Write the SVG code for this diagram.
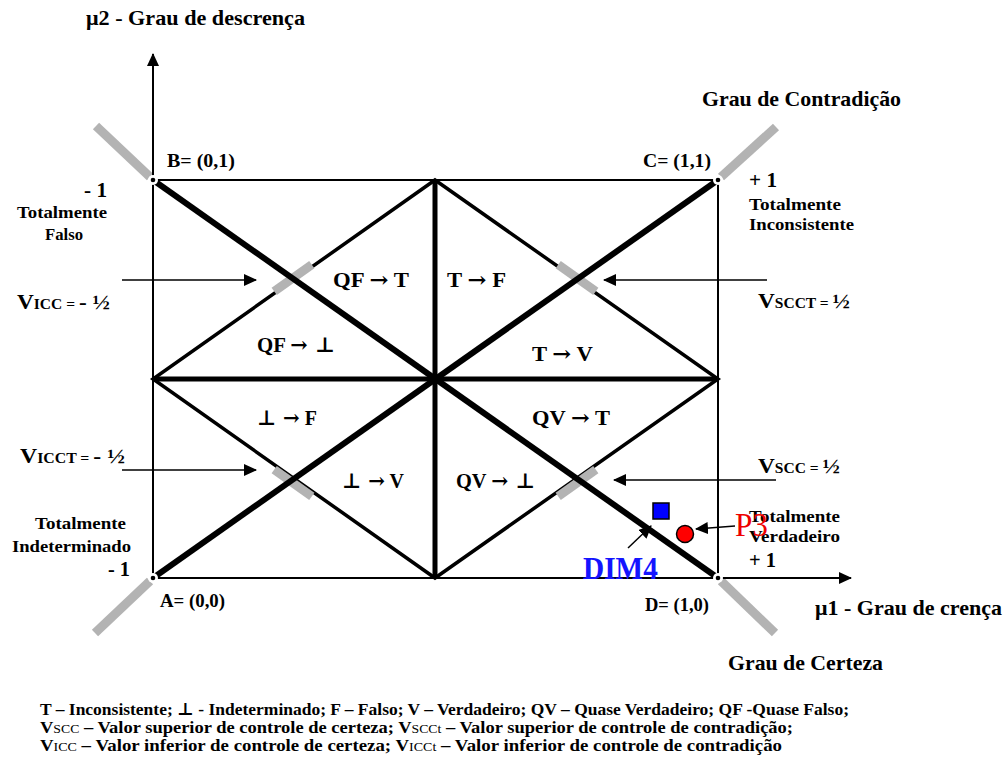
<svg xmlns="http://www.w3.org/2000/svg" width="1003" height="761" viewBox="0 0 1003 761">
<style>
text{font-family:"Liberation Serif","DejaVu Serif",serif;font-weight:bold;fill:#000}
.s15{font-size:17.5px}
.s16{font-size:18px}
.s17{font-size:21px}
.s18{font-size:21px}
.s20{font-size:21.5px}
.lg{font-size:17.5px}
.sm{font-size:14px}
.sym{font-family:"DejaVu Serif",serif}
.thin{stroke:#000;stroke-width:2;fill:none}
.diag{stroke:#000;stroke-width:6;fill:none}
.mid{stroke:#000;stroke-width:5;fill:none}
.edge{stroke:#000;stroke-width:3.5;fill:none;stroke-linejoin:miter}
.bar{stroke:#b3b3b3;stroke-width:9;fill:none}
.arr{stroke:#000;stroke-width:1.5;fill:none;marker-end:url(#ah)}
.axis{stroke:#000;stroke-width:2;fill:none;marker-end:url(#ah)}
.halo{fill:#fff}
.dot{fill:#000}
</style>
<defs>
<marker id="ah" markerUnits="userSpaceOnUse" markerWidth="13" markerHeight="12" refX="12" refY="6" orient="auto">
<path d="M0,0 L13,6 L0,12 z" fill="#000"/>
</marker>
</defs>

<g id="corner-bars">
<line class="bar" x1="150" y1="177" x2="96" y2="126"/>
<line class="bar" x1="721" y1="177" x2="776" y2="127"/>
<line class="bar" x1="150" y1="581" x2="95" y2="633"/>
<line class="bar" x1="721" y1="581" x2="775" y2="633"/>
</g>

<g id="axes">
<line class="axis" x1="153" y1="578" x2="153" y2="54"/>
<line class="axis" x1="153" y1="578" x2="851" y2="578"/>
</g>

<g id="frame">
<line class="thin" x1="153" y1="180" x2="718" y2="180"/>
<line class="thin" x1="718" y1="180" x2="718" y2="578"/>
</g>

<g id="lattice">
<polygon class="edge" points="435,180 718,379 435,578 153,379"/>
<line class="mid" x1="435" y1="180" x2="435" y2="578"/>
<line class="mid" x1="153" y1="379" x2="718" y2="379"/>
<line class="bar" x1="274.2" y1="291.3" x2="311.8" y2="264.7"/>
<line class="bar" x1="558.2" y1="264.7" x2="595.8" y2="291.3"/>
<line class="bar" x1="274.2" y1="469.7" x2="311.8" y2="496.3"/>
<line class="bar" x1="558.2" y1="496.3" x2="595.8" y2="469.7"/>
<line class="diag" x1="153" y1="180" x2="718" y2="578"/>
<line class="diag" x1="153" y1="578" x2="718" y2="180"/>
</g>

<g id="corner-points">
<circle class="halo" cx="153" cy="180" r="5"/><circle class="dot" cx="153" cy="180" r="2.3"/>
<circle class="halo" cx="718" cy="180" r="5"/><circle class="dot" cx="718" cy="180" r="2.3"/>
<circle class="halo" cx="153" cy="578" r="5"/><circle class="dot" cx="153" cy="578" r="2.3"/>
<circle class="halo" cx="718" cy="578" r="5"/><circle class="dot" cx="718" cy="578" r="2.3"/>
</g>

<g id="connectors">
<line class="arr" x1="122" y1="280" x2="256" y2="280"/>
<line class="arr" x1="122" y1="470" x2="256" y2="470"/>
<line class="arr" x1="767" y1="280" x2="604" y2="280"/>
<line class="arr" x1="776" y1="480" x2="614" y2="480"/>
<line class="arr" x1="735" y1="526" x2="696" y2="529"/>
<line class="arr" x1="628" y1="548" x2="651" y2="526"/>
</g>

<g id="axis-labels">
<text class="s20" x="86" y="25" textLength="219" lengthAdjust="spacingAndGlyphs">μ2 - Grau de descrença</text>
<text class="s20" x="815" y="615" textLength="187" lengthAdjust="spacingAndGlyphs">μ1 - Grau de crença</text>
<text class="s20" x="702" y="106" textLength="199" lengthAdjust="spacingAndGlyphs">Grau de Contradição</text>
<text class="s20" x="728" y="670" textLength="155" lengthAdjust="spacingAndGlyphs">Grau de Certeza</text>
</g>

<g id="corner-labels">
<text class="s16" x="167" y="167" textLength="68" lengthAdjust="spacingAndGlyphs">B= (0,1)</text>
<text class="s16" x="643" y="167" textLength="68" lengthAdjust="spacingAndGlyphs">C= (1,1)</text>
<text class="s16" x="160" y="607" textLength="65" lengthAdjust="spacingAndGlyphs">A= (0,0)</text>
<text class="s16" x="645" y="611" textLength="64" lengthAdjust="spacingAndGlyphs">D= (1,0)</text>
</g>

<g id="node-falso">
<text class="s17" x="84" y="197" textLength="23" lengthAdjust="spacingAndGlyphs">- 1</text>
<text class="s15" x="17" y="218" textLength="90" lengthAdjust="spacingAndGlyphs">Totalmente</text>
<text class="s15" x="45" y="240" textLength="38" lengthAdjust="spacingAndGlyphs">Falso</text>
</g>
<g id="node-inconsistente">
<text class="s17" x="749" y="187" textLength="28" lengthAdjust="spacingAndGlyphs">+ 1</text>
<text class="s15" x="749" y="210" textLength="92" lengthAdjust="spacingAndGlyphs">Totalmente</text>
<text class="s15" x="749" y="230" textLength="105" lengthAdjust="spacingAndGlyphs">Inconsistente</text>
</g>
<g id="node-indeterminado">
<text class="s15" x="35" y="529" textLength="91" lengthAdjust="spacingAndGlyphs">Totalmente</text>
<text class="s15" x="12" y="552" textLength="119" lengthAdjust="spacingAndGlyphs">Indeterminado</text>
<text class="s17" x="108" y="576" textLength="22" lengthAdjust="spacingAndGlyphs">- 1</text>
</g>
<g id="node-verdadeiro">
<text class="s15" x="749" y="522" textLength="91" lengthAdjust="spacingAndGlyphs">Totalmente</text>
<text class="s15" x="749" y="542" textLength="91" lengthAdjust="spacingAndGlyphs">Verdadeiro</text>
<text class="s17" x="749" y="567" textLength="27" lengthAdjust="spacingAndGlyphs">+ 1</text>
</g>

<g id="control-values">
<text class="s18" x="17" y="309" textLength="93" lengthAdjust="spacingAndGlyphs">V<tspan class="sm">ICC = </tspan>- ½</text>
<text class="s18" x="20" y="463" textLength="105" lengthAdjust="spacingAndGlyphs">V<tspan class="sm">ICCT = </tspan>- ½</text>
<text class="s18" x="758" y="308" textLength="92" lengthAdjust="spacingAndGlyphs">V<tspan class="sm">SCCT = </tspan>½</text>
<text class="s18" x="758" y="473" textLength="82" lengthAdjust="spacingAndGlyphs">V<tspan class="sm">SCC = </tspan>½</text>
</g>

<g id="regions">
<text class="s18" x="333" y="287" textLength="76" lengthAdjust="spacingAndGlyphs">QF <tspan class="sym">→</tspan> T</text>
<text class="s18" x="447" y="287" textLength="59" lengthAdjust="spacingAndGlyphs">T <tspan class="sym">→</tspan> F</text>
<text class="s18" x="257" y="352" textLength="78" lengthAdjust="spacingAndGlyphs">QF <tspan class="sym">→ ⊥</tspan></text>
<text class="s18" x="532" y="361" textLength="61" lengthAdjust="spacingAndGlyphs">T <tspan class="sym">→</tspan> V</text>
<text class="s18" x="257" y="425" textLength="60" lengthAdjust="spacingAndGlyphs"><tspan class="sym">⊥ →</tspan> F</text>
<text class="s18" x="532" y="425" textLength="78" lengthAdjust="spacingAndGlyphs">QV <tspan class="sym">→</tspan> T</text>
<text class="s18" x="342" y="488" textLength="62" lengthAdjust="spacingAndGlyphs"><tspan class="sym">⊥ →</tspan> V</text>
<text class="s18" x="456" y="488" textLength="79" lengthAdjust="spacingAndGlyphs">QV <tspan class="sym">→ ⊥</tspan></text>
</g>

<g id="dim4">
<rect x="653" y="503" width="16" height="16" fill="#0000ff" stroke="#000" stroke-width="1.5"/>
<text x="583" y="579" style="font-size:31px;fill:#1414ff" textLength="75" lengthAdjust="spacingAndGlyphs">DIM4</text>
</g>
<g id="p3">
<circle cx="685" cy="534" r="8.5" fill="#ff0000" stroke="#000" stroke-width="1.5"/>
<text x="735" y="536" style="font-size:34px;font-weight:normal;fill:#ee0000" textLength="33" lengthAdjust="spacingAndGlyphs">P3</text>
</g>

<g id="legend">
<text class="lg" x="40" y="715" textLength="809" lengthAdjust="spacingAndGlyphs">T – Inconsistente;  <tspan class="sym">⊥</tspan> - Indeterminado;  F – Falso;  V – Verdadeiro;  QV – Quase Verdadeiro;  QF -Quase Falso;</text>
<text class="lg" x="40" y="733" textLength="753" lengthAdjust="spacingAndGlyphs">V<tspan style="font-size:13px;font-weight:normal">SCC</tspan> – Valor superior de controle de certeza; V<tspan style="font-size:13px;font-weight:normal">SCCt</tspan> – Valor superior de controle de contradição;</text>
<text class="lg" x="40" y="751" textLength="742" lengthAdjust="spacingAndGlyphs">V<tspan style="font-size:13px;font-weight:normal">ICC</tspan> – Valor inferior de controle de certeza; V<tspan style="font-size:13px;font-weight:normal">ICCt</tspan> – Valor inferior de controle de contradição</text>
</g>
</svg>
